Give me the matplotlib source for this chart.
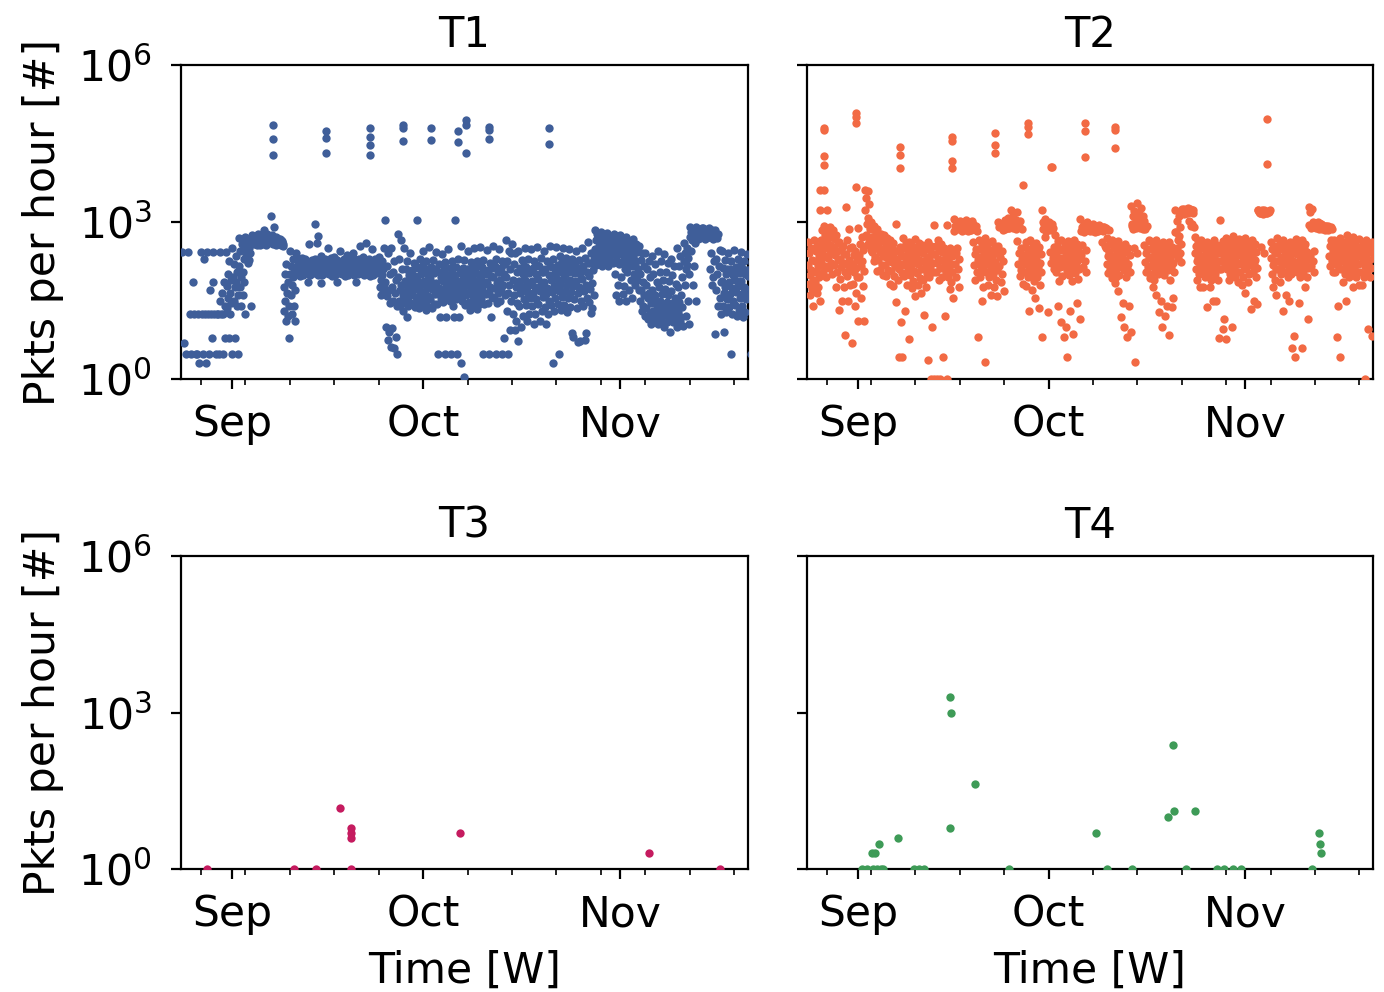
import datetime as dt
import numpy as np
import matplotlib
matplotlib.use('Agg')
import matplotlib.pyplot as plt
import matplotlib.dates as mdates

start = dt.datetime(2018, 8, 24)
xlim = (dt.datetime(2018, 8, 23, 21, 30), dt.datetime(2018, 11, 21, 3, 30))

# hourly-ish counts, one string per day from Aug 24, values are 100*log10(pkts)
t1_days = [
    "243 69 48", "243 186 124 48", "124 124 48 30 48", "243 229 124 124 48 30",
    "243 186 170 124 124 48 78", "243 124 124 124 48 48",
    "243 186 165 150 140 124 124 78 48",
    "242 225 200 190 178 165 155 145 135 124 78 48",
    "250 235 220 205 195 185 175 160 150 140 78 48",
    "270 258 245 230 215 205 195 185 175 160 140 125",
    "272 268 262 258 255 250 245 240 235 228 222 140",
    "275 272 268 265 262 260 258 256 262 270 266 260",
    "278 275 270 266 262 258 256 262 270 274 268 264",
    "285 278 272 268 264 260 257 262 268 274 270 266",
    "312 291 275 270 266 262 258 256 260 266 270 272",
    "270 268 265 262 258 256 260 264 268 266 262 258",
    "255 220 200 185 175 165 150 140 130 120 110 79",
    "245 230 215 205 200 195 180 170 160 140 125 110",
    "240 230 225 220 215 212 208 205 200 196 210 218",
    "232 226 221 217 213 209 205 201 198 225 230 186",
    "258 228 222 218 214 210 206 202 199 215 224 230",
    "296 273 259 230 224 219 215 211 207 203 199 183",
    "235 229 224 219 215 211 207 203 199 212 220 226",
    "250 231 226 221 217 213 209 205 201 197 222 228",
    "233 227 222 218 214 210 206 202 198 215 186 224",
    "245 230 225 220 216 212 208 204 200 196 218 227",
    "236 229 224 219 215 211 207 203 199 213 221 240",
    "232 226 221 217 213 209 205 201 198 224 186 230",
    "255 233 227 222 218 214 210 206 202 198 219 226",
    "260 230 225 220 216 212 208 204 200 196 215 223",
    "248 229 224 219 215 211 207 203 199 214 221 228",
    "233 225 218 210 205 198 190 182 175 170 160 250",
    "304 240 215 200 185 170 158 145 100 90 75 62",
    "250 225 205 190 175 165 150 140 98 80 60 48",
    "278 265 230 210 195 180 170 160 150 145 140 130",
    "250 225 210 198 188 178 168 158 148 140 119 205",
    "240 222 208 196 186 176 166 156 146 138 190 215",
    "304 230 212 200 190 180 170 160 150 142 135 218",
    "245 226 210 198 188 178 168 158 148 140 132 200",
    "252 228 214 202 192 182 172 162 152 144 136 210",
    "242 220 206 194 184 174 164 154 144 119 48 200",
    "238 224 210 198 188 178 168 158 148 119 48 185",
    "248 226 212 200 190 180 170 160 150 140 48 119",
    "304 230 214 202 192 182 172 162 152 119 48 30",
    "255 228 212 200 190 180 170 160 150 142 4 210",
    "245 224 210 198 188 178 168 158 148 140 132 205",
    "250 226 212 200 190 180 170 160 150 142 134 215",
    "252 228 214 202 192 182 172 162 152 144 48 200",
    "246 222 208 196 186 176 166 156 146 119 48 212",
    "254 230 216 204 194 184 174 164 154 146 48 205",
    "248 226 212 200 190 180 170 160 150 78 48 220",
    "265 245 225 210 195 180 165 150 130 93 48 240",
    "258 240 220 205 190 175 160 145 125 110 93 72",
    "245 228 212 200 188 176 164 152 140 120 100 215",
    "250 230 214 202 190 178 166 154 142 125 110 208",
    "248 226 212 200 188 176 164 152 140 125 105 218",
    "252 232 216 204 192 180 168 156 144 130 110 205",
    "245 225 210 198 186 174 162 150 138 125 105 215",
    "255 230 214 202 190 178 166 154 142 130 30 210",
    "253 235 218 205 192 180 168 156 144 132 48 225",
    "250 232 216 204 192 180 168 155 142 128 200 225",
    "248 230 214 202 190 178 166 152 138 80 88 220",
    "245 228 212 200 188 176 164 150 136 72 70 210",
    "250 232 216 204 192 180 168 154 140 88 75 222",
    "262 240 222 208 196 184 172 160 148 135 126 230",
    "285 275 265 255 248 240 232 225 218 268 278 250",
    "280 272 264 256 248 240 232 224 216 262 274 252",
    "279 270 262 254 246 238 230 222 215 258 268 250",
    "278 268 260 252 244 236 228 220 200 180 160 150",
    "275 265 256 248 240 232 224 210 195 178 162 150",
    "272 262 254 246 238 230 222 215 205 190 170 155",
    "268 258 250 242 234 226 218 210 200 190 180 170",
    "255 240 228 215 200 185 170 160 150 140 130 120",
    "240 225 210 195 180 165 155 145 135 125 115 105",
    "235 220 200 185 170 160 150 140 130 120 112 105",
    "245 225 205 190 175 162 150 140 130 120 110 100",
    "238 222 205 188 172 160 148 138 128 118 108 90",
    "230 215 198 182 168 155 145 135 125 115 108 100",
    "250 235 215 195 175 160 148 138 128 118 110 102",
    "260 250 240 232 225 218 210 200 180 150 120 105",
    "291 285 280 276 272 268 265 260 245 215 180 150",
    "290 286 282 278 274 270 268 272 276 280 284 288",
    "289 285 281 277 273 270 268 272 276 280 284 287",
    "288 284 280 276 272 268 240 225 210 195 180 86",
    "285 278 270 247 230 215 200 185 170 155 140 125",
    "245 228 212 200 188 176 164 152 140 128 90 210",
    "240 225 210 198 186 174 162 150 138 125 48 205",
    "247 230 214 202 190 178 166 154 142 130 120 215",
    "242 226 212 200 188 176 164 152 140 128 118 208",
    "238 222 208 196 184 172 160 48",
]
t1_spike_day = [14.4, 14.4, 14.4, 22.7, 22.7, 22.7, 29.7, 29.7, 29.7, 29.7,
                34.8, 34.8, 34.8, 39.2, 39.2, 43.5, 43.5, 44.7, 44.7, 44.7,
                48.4, 48.4, 48.4, 57.9, 57.9]
t1_spike_val = [485, 459, 428, 473, 460, 431, 479, 463, 447, 428,
                485, 479, 455, 480, 457, 473, 452, 495, 485, 431,
                482, 475, 459, 479, 449]

t2_days = [
    "262 250 240 228 218 208 198 190 182 172 160 140",
    "265 255 245 235 225 215 205 195 185 175 165 150",
    "322 292 285 275 265 255 245 235 225 215 205 195",
    "322 290 280 272 264 256 248 240 232 222 212 200",
    "285 276 268 260 252 244 236 228 218 205 175 132",
    "262 255 246 238 230 222 214 205 192 175 150 84",
    "329 286 266 250 238 228 218 208 196 180 150 69",
    "252 244 236 228 220 212 204 195 182 165 140 110",
    "288 272 258 246 236 226 216 206 194 178 155 110",
    "362 360 345 335 322 308 296 286 276 266 256 246",
    "300 292 286 279 272 265 258 250 242 234 225 206",
    "286 278 270 263 256 249 242 235 227 218 208 198",
    "276 269 262 255 248 241 234 226 218 208 196 182",
    "266 259 252 245 238 231 224 216 207 196 178 148",
    "297 252 244 236 228 220 211 202 190 108 42 42",
    "270 260 251 243 235 227 218 208 196 180 130 77",
    "262 255 248 240 232 224 216 207 198 188 174 158",
    "268 259 251 243 235 227 219 211 203 193 180 165",
    "256 249 241 233 225 218 210 201 190 176 122 36",
    "262 254 246 238 230 222 214 205 194 99 0 0",
    "294 265 255 246 238 230 222 213 204 190 0 0",
    "258 250 242 235 228 220 212 204 194 120 42 0",
    "294 250 242 235 228 220 212 204 195 185 172 155",
    "305 298 292 287 282 250 240 230 220 210 195 175",
    "302 298 294 291 288 285 283 287 291 295 299 303",
    "300 296 292 289 286 284 282 285 289 293 297 301",
    "297 292 287 283 262 248 238 228 217 205 190 80",
    "266 257 249 241 233 225 216 206 195 176 150 32",
    "270 260 252 244 236 228 220 212 204 194 180 160",
    "263 255 247 240 232 224 217 209 200 190 175 158",
    "300 295 290 285 255 244 234 225 215 200 185 168",
    "298 293 290 288 286 289 293 298 303 307 300 293",
    "322 318 310 302 296 291 288 286 290 295 299 303",
    "320 302 292 286 263 250 240 230 220 208 196 182",
    "371 262 252 244 236 228 220 212 204 194 178 130",
    "266 257 249 241 233 225 217 209 200 188 170 155",
    "260 253 246 238 230 222 214 205 194 180 135 81",
    "322 306 297 291 286 282 289 295 300 286 272 128",
    "300 296 291 288 285 284 286 252 242 232 222 210",
    "276 264 254 246 238 230 222 214 204 188 140 108",
    "266 256 248 240 232 224 216 206 196 100 80 42",
    "263 255 248 240 232 225 217 209 199 188 130 86",
    "266 258 250 242 235 227 219 211 203 192 146 115",
    "306 296 290 285 282 280 256 246 236 225 214 204",
    "300 293 289 286 284 282 285 288 291 288 285 283",
    "296 291 288 286 284 282 281 283 286 289 291 294",
    "293 290 288 286 284 283 284 286 289 291 262 255",
    "289 285 270 258 250 242 235 227 219 211 203 193",
    "266 258 250 242 235 228 220 212 204 194 184 168",
    "263 255 248 240 232 225 217 209 199 145 118 100",
    "258 250 243 236 228 220 212 204 194 140 81 90",
    "330 321 311 302 296 291 287 289 293 32 250 240",
    "336 326 316 306 299 293 289 286 290 295 301 311",
    "301 292 286 266 256 248 240 232 224 214 204 193",
    "263 255 248 240 233 225 218 210 201 190 175 160",
    "266 256 248 240 233 225 218 210 200 150 128 100",
    "262 255 248 240 232 225 217 209 199 140 120 85",
    "261 253 245 238 230 222 214 205 190 155 138 280",
    "322 311 301 291 281 273 265 258 250 241 232 224",
    "325 322 320 318 320 322 325 322 320 318 316 320",
    "326 323 320 318 320 322 325 322 301 296 292 290",
    "271 263 255 248 240 232 225 218 210 200 190 175",
    "266 258 250 242 235 228 220 212 204 194 175 138",
    "262 255 248 240 232 225 218 210 200 190 175 150",
    "266 256 248 240 232 225 218 210 200 190 150 78",
    "304 263 255 248 240 232 225 218 210 115 95 76",
    "270 262 255 248 240 232 225 218 210 200 190 99",
    "273 265 258 250 242 235 228 220 212 205 195 185",
    "268 260 252 245 238 230 222 215 205 195 180 165",
    "270 262 255 248 240 232 225 218 210 200 185 134",
    "265 258 250 242 235 228 220 212 205 195 150 143",
    "322 320 318 320 322 320 318 316 320 322 252 240",
    "323 320 318 319 322 320 318 321",
    "262 255 248 240 232 225 218 210 200 190 175 160",
    "270 262 255 248 240 232 225 218 210 200 185 130",
    "265 258 250 242 235 228 220 212 205 195 160 150",
    "262 255 248 240 232 225 218 210 200 83 60 42",
    "268 260 252 245 238 230 222 215 205 195 145 60",
    "265 258 250 242 235 228 220 212 205 195 175 115",
    "328 325 320 300 295 290 288 245 235 225 215 205",
    "298 295 292 290 288 286 290 292 295 298 300 296",
    "296 292 290 288 286 284 288 290 294 292 290 288",
    "292 290 288 286 284 265 255 245 235 225 215 205",
    "265 258 250 242 235 228 220 212 205 140 80 42",
    "270 262 255 248 240 232 225 218 210 200 185 150",
    "275 265 258 250 242 235 228 220 212 205 195 175",
    "272 265 258 250 242 235 228 220 212 205 195 180",
    "268 260 252 245 238 230 222 215 205 195 180 0",
    "265 258 250 242 235 228 220 212 205 195 95 82",
    "262 255 248 240 232 225",
]
t2_spike_day = [1.9, 2.6, 2.6, 2.6, 2.6, 2.6, 7.7, 7.7, 7.7, 7.7,
                14.5, 14.5, 14.5, 22.7, 22.7, 22.7, 22.7, 29.5, 29.5, 29.5,
                34.8, 34.8, 34.8, 38.3, 38.5, 43.8, 43.8, 43.8,
                48.4, 48.4, 48.4, 72.4, 72.4]
t2_spike_val = [361, 479, 476, 426, 409, 361, 508, 500, 489, 367,
                443, 428, 403, 462, 455, 417, 403, 471, 447, 431,
                490, 482, 468, 406, 406, 489, 473, 425,
                482, 475, 441, 496, 411]

# sparse series: day offset from Aug 24 and packets per hour
t3_day = [4.0, 17.7, 21.1, 24.9, 26.6, 26.6, 26.6, 26.6, 43.8, 73.6, 84.8]
t3_pkts = [1, 1, 1, 15, 6, 5, 4, 1, 5, 2, 1]

t4_day = [8.5, 9.4, 10.3, 10.9, 11.5, 11.9, 16.7, 17.5, 18.4, 31.8, 47.2,
          51.1, 59.7, 64.6, 65.6, 67.1, 68.3, 79.6,
          10.1, 10.6, 11.2, 14.3, 22.5, 22.6, 22.5, 26.4, 45.5, 56.8,
          57.8, 57.6, 61.0, 80.7, 80.8, 80.9]
t4_pkts = [1, 1, 1, 1, 1, 1, 1, 1, 1, 1, 1,
           1, 1, 1, 1, 1, 1, 1,
           2, 2, 3, 4, 2000, 1000, 6, 43, 5, 10,
           13, 234, 13, 5, 3, 2]

titles = ['T1', 'T2', 'T3', 'T4']
colors = ['#3f5e99', '#f26a44', '#c51b5f', '#3e9b57']

# order in which the readings of one day fall into its hour slots
slot_order = [0, 6, 3, 9, 1, 7, 4, 10, 2, 8, 5, 11]


def expand(days):
    x, y = [], []
    for d, s in enumerate(days):
        vals = [int(v) for v in s.split()]
        n = len(vals)
        slots = [o for o in slot_order if o < n] + list(range(12, n))
        for i, v in enumerate(vals):
            x.append(start + dt.timedelta(days=d + slots[i] / n))
            y.append(10 ** (v / 100.))
    return x, y


def spikes(days, vals, log=True):
    x = [start + dt.timedelta(days=d) for d in days]
    if log:
        y = [10 ** (v / 100.) for v in vals]
    else:
        y = list(vals)
    return x, y


x1, y1 = expand(t1_days)
sx, sy = spikes(t1_spike_day, t1_spike_val)
x1 += sx
y1 += sy
x2, y2 = expand(t2_days)
sx, sy = spikes(t2_spike_day, t2_spike_val)
x2 += sx
y2 += sy
x3, y3 = spikes(t3_day, t3_pkts, log=False)
x4, y4 = spikes(t4_day, t4_pkts, log=False)
series = [(x1, y1), (x2, y2), (x3, y3), (x4, y4)]

plt.rcParams['font.family'] = 'DejaVu Sans'
plt.rcParams['font.size'] = 15.3

fig = plt.figure(figsize=(6.92, 4.96))
W, H = 1384., 992.
boxes = [(181, 65, 748, 379), (807, 65, 1373, 379),
         (181, 556, 748, 869), (807, 556, 1373, 869)]

for k, (l, t, r, b) in enumerate(boxes):
    ax = fig.add_axes([l / W, 1 - b / H, (r - l) / W, (b - t) / H])
    xs, ys = series[k]
    ax.scatter(xs, ys, s=9, c=colors[k], linewidths=0, zorder=3)
    ax.set_yscale('log')
    ax.set_ylim(1, 1e6)
    ax.set_yticks([1, 1e3, 1e6])
    ax.yaxis.set_minor_locator(matplotlib.ticker.NullLocator())
    ax.set_xlim(xlim)
    ax.xaxis.set_major_locator(mdates.MonthLocator())
    ax.xaxis.set_major_formatter(mdates.DateFormatter('%b'))
    ax.xaxis.set_minor_locator(mdates.WeekdayLocator(byweekday=mdates.MO))
    ax.tick_params(axis='x', which='major', pad=5.3)
    ax.tick_params(axis='y', which='major', pad=7)
    ax.set_title(titles[k], fontsize=15, pad=6.5)
    if k % 2 == 0:
        ax.set_ylabel('Pkts per hour [#]', labelpad=5)
    else:
        ax.tick_params(axis='y', labelleft=False)
    if k >= 2:
        ax.set_xlabel('Time [W]', labelpad=5)

fig.savefig('out.png', dpi=200)
